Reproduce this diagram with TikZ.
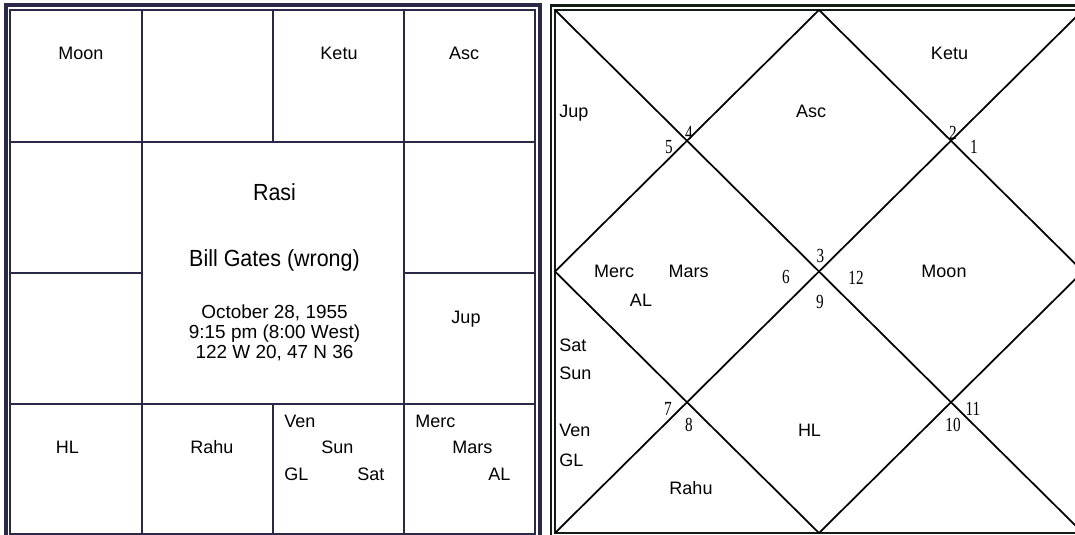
\documentclass[tikz,border=0pt]{standalone}
\usepackage{fontspec}
\setmainfont{Liberation Sans}
\newfontfamily\bigfont[FakeStretch=0.92]{Liberation Sans}
\newfontfamily\numfont[FakeStretch=0.76]{Liberation Serif}
\definecolor{gridnavy}{RGB}{42,42,72}
\definecolor{chartink}{RGB}{18,30,20}
\begin{document}
\begin{tikzpicture}[x=0.75pt,y=-0.75pt,
  grid/.style={draw=gridnavy,line width=1.9pt},
  diag/.style={draw=black,line width=1.3pt},
  lbl/.style={font=\fontsize{13.5}{16}\selectfont,inner sep=0pt,text height=9.6pt,text depth=0pt},
  big/.style={font=\bigfont\fontsize{17.5}{20}\selectfont,inner sep=0pt,text height=12.5pt,text depth=0pt},
  hnum/.style={font=\numfont\fontsize{15}{15}\selectfont,inner sep=0pt,text height=10pt,text depth=0pt}]
  \path[use as bounding box] (0,0) rectangle (1075,535);
  \clip (0,0) rectangle (1075,535);
  \fill[white] (0,0) rectangle (1075,535);
  % rasi chart, square style
  \draw[gridnavy,line width=3pt] (5.5,5.5) rectangle (539.5,539);
  \draw[gridnavy,line width=1.5pt] (10,10) rectangle (535,534);
  \draw[grid] (10,142) -- (535,142);
  \draw[grid] (10,404) -- (535,404);
  \draw[grid] (10,273) -- (142,273);
  \draw[grid] (404,273) -- (535,273);
  \draw[grid] (142,10) -- (142,534);
  \draw[grid] (404,10) -- (404,534);
  \draw[grid] (273,10) -- (273,142);
  \draw[grid] (273,404) -- (273,534);
  \node[lbl] (moonL) at (81,53) {Moon};
  \node[lbl] (ketuL) at (339,53) {Ketu};
  \node[lbl] (ascL) at (464,53) {Asc};
  \node[big] (rasi) at (274.5,192) {Rasi};
  \node[big] (name) at (274.5,258) {Bill Gates (wrong)};
  \node[align=center,inner sep=0pt,font=\fontsize{14.2}{15}\selectfont] (birth) at (274.5,333)
    {October 28, 1955\\9:15 pm (8:00 West)\\122 W 20, 47 N 36};
  \node[lbl] (jupL) at (466,317) {Jup};
  \node[lbl] (hlL) at (67.5,447) {HL};
  \node[lbl] (rahuL) at (212,447) {Rahu};
  \node[lbl,anchor=west] (venL) at (284,421) {Ven};
  \node[lbl,anchor=west] (sunL) at (321,447) {Sun};
  \node[lbl,anchor=west] (glL) at (284,474) {GL};
  \node[lbl,anchor=west] (satL) at (357,474) {Sat};
  \node[lbl,anchor=west] (mercL) at (415,421) {Merc};
  \node[lbl,anchor=west] (marsL) at (452,447) {Mars};
  \node[lbl,anchor=west] (alL) at (488,474) {AL};
  % north indian chart
  \coordinate (tl) at (555,10);
  \coordinate (tr) at (1083,10);
  \coordinate (bl) at (555,533);
  \coordinate (br) at (1083,533);
  \coordinate (tm) at (819,10);
  \coordinate (lm) at (555,271.5);
  \coordinate (bm) at (819,533);
  \coordinate (rm) at (1083,271.5);
  \draw[chartink,line width=2.2pt] (551,5.5) rectangle (1087,537.5);
  \draw[chartink,line width=1pt] (tl) rectangle (br);
  \draw[diag] (tl) -- (br);
  \draw[diag] (bl) -- (tr);
  \draw[diag] (tm) -- (lm) -- (bm) -- (rm) -- cycle;
  \node[lbl] (ketuR) at (949.5,53) {Ketu};
  \node[lbl,anchor=west] (jupR) at (559,111.5) {Jup};
  \node[lbl] (ascR) at (811,111.5) {Asc};
  \node[lbl] (mercR) at (614,271.5) {Merc};
  \node[lbl] (marsR) at (688.5,271.5) {Mars};
  \node[lbl] (moonR) at (944,271.5) {Moon};
  \node[lbl] (alR) at (641,300) {AL};
  \node[lbl,anchor=west] (satR) at (559,345) {Sat};
  \node[lbl,anchor=west] (sunR) at (559,373) {Sun};
  \node[lbl,anchor=west] (venR) at (559,430.5) {Ven};
  \node[lbl,anchor=west] (glR) at (559,460) {GL};
  \node[lbl] (hlR) at (809.5,430.5) {HL};
  \node[lbl] (rahuR) at (691,488) {Rahu};
  \node[hnum] (h1) at (974,146.5) {1};
  \node[hnum] (h2) at (953,133) {2};
  \node[hnum] (h3) at (820.5,255.5) {3};
  \node[hnum] (h4) at (689,133) {4};
  \node[hnum] (h5) at (669,146.5) {5};
  \node[hnum] (h6) at (786,277) {6};
  \node[hnum] (h7) at (668,408.5) {7};
  \node[hnum] (h8) at (689,424.5) {8};
  \node[hnum] (h9) at (820,302) {9};
  \node[hnum] (h10) at (953,424.5) {10};
  \node[hnum] (h11) at (973,408.5) {11};
  \node[hnum] (h12) at (856,278) {12};
\end{tikzpicture}
\end{document}
